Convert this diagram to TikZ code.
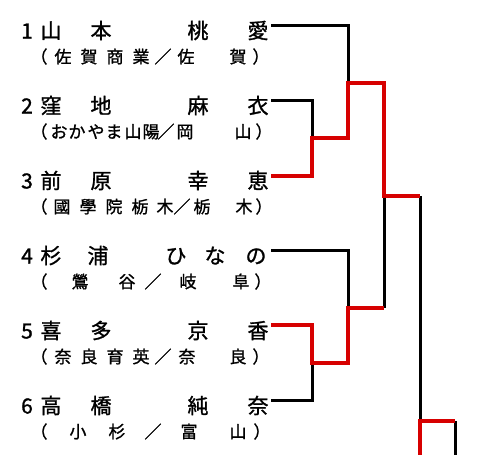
\documentclass[tikz,border=0pt]{standalone}
\usepackage{fontspec}
\newfontfamily\jpfont[FakeBold=1.2]{Noto Sans CJK JP}
\definecolor{winred}{RGB}{215,0,0}
\newcommand\placechars[4]{%
  \foreach \xx/\cc [count=\ii] in {#4} {\node[#3] (#1-\ii) at (\xx,#2) {\cc};}}
\begin{document}
\begin{tikzpicture}[x=1pt,y=-1pt,
  big/.style={font=\jpfont\fontsize{21}{21}\selectfont, inner sep=0pt, anchor=base},
  sub/.style={font=\jpfont\fontsize{17}{17}\selectfont, inner sep=0pt, anchor=base},
  blk/.style={line width=3pt, black},
  win/.style={line width=4pt, winred}]
\useasboundingbox (0,0) rectangle (480,455);
% names
\placechars{n1}{38.5}{big}{27/1, 51/山, 101/本, 198/桃, 258/愛}
\placechars{s1}{63}{sub}{39/（, 63/佐, 89/賀, 115/商, 141/業, 163/／, 186/佐, 238/賀, 261/）}
\placechars{n2}{113.5}{big}{27/2, 51/窪, 101/地, 198/麻, 258/衣}
\placechars{s2}{138}{sub}{39/（, 59/お, 77/か, 96/や, 114/ま, 133/山, 151/陽, 166/／, 185/岡, 243/山, 264/）}
\placechars{n3}{188.5}{big}{27/3, 51/前, 101/原, 198/幸, 258/恵}
\placechars{s3}{213}{sub}{39/（, 62/國, 88/學, 114/院, 140/栃, 165/木, 182/／, 202/栃, 244/木, 264/）}
\placechars{n4}{263.5}{big}{27/4, 51/杉, 98/浦, 176/ひ, 215/な, 256/の}
\placechars{s4}{288}{sub}{39/（, 80/鶯, 127/谷, 153/／, 188/岐, 241/阜, 263/）}
\placechars{n5}{338.5}{big}{27/5, 51/喜, 101/多, 198/京, 258/香}
\placechars{s5}{363}{sub}{39/（, 63/奈, 89/良, 115/育, 141/英, 163/／, 187/奈, 238/良, 261/）}
\placechars{n6}{413.5}{big}{27/6, 51/高, 101/橋, 198/純, 258/奈}
\placechars{s6}{438}{sub}{39/（, 78/小, 117/杉, 153/／, 189/富, 238/山, 262/）}
% bracket coordinates
\coordinate (p1) at (271,25);
\coordinate (p2) at (271,100);
\coordinate (p3) at (271,176);
\coordinate (p4) at (271,250);
\coordinate (p5) at (271,325);
\coordinate (p6) at (271,400);
\coordinate (j23) at (312,138);
\coordinate (j123) at (348,83);
\coordinate (j56) at (312,363);
\coordinate (j456) at (348,308);
\coordinate (jtop) at (384,196);
\coordinate (jm) at (384,308);
\coordinate (jq) at (420,196);
\coordinate (jb) at (420,421);
\coordinate (jr) at (455,421);
\coordinate (b1) at (420,455);
\coordinate (b2) at (455,455);
% black lines
\draw[blk] (p1) -| (j123);
\draw[blk] (p2) -| (j23);
\draw[blk] (p4) -| (j456);
\draw[blk] (p6) -| (j56);
\draw[blk] (jm) -- (jtop);
\draw[blk] (jq) -- (jb);
\draw[blk] (jr) -- (b2);
% winner lines
\draw[win] (p3) -| (j23) -| (j123) -| (jtop) -- (jq);
\draw[win] (p5) -| (j56) -| (j456) -- (jm);
\draw[win] (b1) -- (jb) -- (jr);
\end{tikzpicture}
\end{document}
